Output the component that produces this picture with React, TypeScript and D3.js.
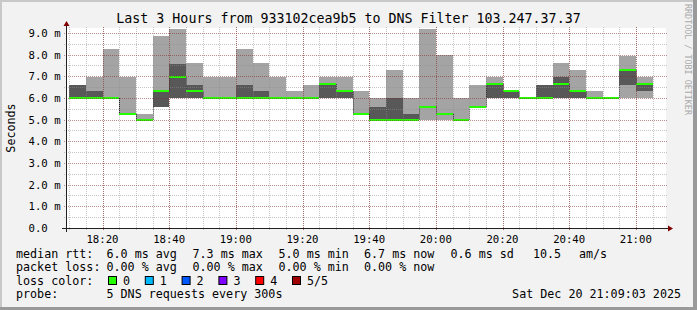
import React from "react";
import * as d3 from "d3";

// ---------- data ----------
const binStarts = [
  "18:10", "18:15", "18:20", "18:25", "18:30", "18:35", "18:40", "18:45", "18:50", "18:55",
  "19:00", "19:05", "19:10", "19:15", "19:20", "19:25", "19:30", "19:35", "19:40", "19:45",
  "19:50", "19:55", "20:00", "20:05", "20:10", "20:15", "20:20", "20:25", "20:30", "20:35",
  "20:40", "20:45", "20:50", "20:55", "21:00",
];
// five sorted pings per 5-minute step (ms)
const ping1 = [6.0, 6.0, 6.0, 5.27, 5.0, 5.6, 6.0, 6.0, 6.0, 6.0, 6.0, 6.0, 6.0, 6.0, 6.0, 6.0, 6.0, 5.27, 5.0, 5.0, 5.0, 5.0, 5.0, 5.0, 5.6, 6.0, 6.0, 6.0, 6.0, 6.0, 6.0, 6.0, 6.0, 6.0, 6.0];
const ping2 = [6.0, 6.0, 6.0, 5.27, 5.0, 5.6, 6.0, 6.0, 6.0, 6.0, 6.0, 6.0, 6.0, 6.0, 6.0, 6.0, 6.0, 5.27, 5.0, 5.0, 5.0, 5.6, 5.27, 5.0, 5.6, 6.0, 6.0, 6.0, 6.0, 6.0, 6.0, 6.0, 6.0, 6.6, 6.3];
const median = [6.0, 6.0, 6.0, 5.27, 5.0, 6.3, 6.95, 6.3, 6.0, 6.0, 6.0, 6.0, 6.0, 6.0, 6.0, 6.63, 6.3, 5.27, 5.0, 5.0, 5.0, 5.6, 5.27, 5.0, 5.6, 6.63, 6.3, 6.0, 6.0, 6.63, 6.3, 6.0, 6.0, 7.27, 6.63];
const ping4 = [6.6, 6.3, 6.0, 5.27, 5.0, 6.3, 7.58, 6.6, 6.0, 6.0, 6.6, 6.3, 6.0, 6.0, 6.0, 6.63, 6.3, 5.27, 5.6, 6.0, 5.27, 5.6, 5.27, 5.0, 5.6, 6.63, 6.3, 6.0, 6.6, 6.95, 6.3, 6.0, 6.0, 7.27, 6.63];
const ping5 = [6.6, 6.95, 8.27, 6.98, 5.27, 8.87, 9.2, 7.63, 6.95, 6.95, 8.27, 7.63, 6.95, 6.3, 6.6, 6.95, 6.95, 6.3, 6.0, 7.27, 6.0, 9.2, 8.0, 6.0, 6.6, 6.95, 6.3, 6.0, 6.6, 7.6, 7.27, 6.3, 6.0, 7.92, 6.98];

const yTickValues = [0, 1, 2, 3, 4, 5, 6, 7, 8, 9];
const xTickLabels = ["18:20", "18:40", "19:00", "19:20", "19:40", "20:00", "20:20", "20:40", "21:00"];
const lossLabels = ["0", "1", "2", "3", "4", "5/5"];
const lossColors = ["#26ff00", "#00b8ff", "#0059ff", "#7e00ff", "#ff0000", "#a10000"];

const titleText = "Last 3 Hours from 933102cea9b5 to DNS Filter 103.247.37.37";
const legendRtt = ["median rtt:", "6.0 ms avg", "7.3 ms max", "5.0 ms min", "6.7 ms now", "0.6 ms sd", "10.5", "am/s"];
const legendLoss = ["packet loss:", "0.00 % avg", "0.00 % max", "0.00 % min", "0.00 % now"];
const probeText = ["probe:", "5 DNS requests every 300s"];
const dateText = "Sat Dec 20 21:09:03 2025";

// ---------- layout ----------
const W = 697;
const H = 310;
const X0 = 66;
const X1 = 666;
const YB = 228;
const YT = 28;
const FONT = "'DejaVu Sans Mono', monospace";

const parse = d3.timeParse("%Y-%m-%d %H:%M:%S");
const tStart = parse("2025-12-20 18:09:03")!;
const tEnd = parse("2025-12-20 21:09:03")!;
const x = d3.scaleTime().domain([tStart, tEnd]).range([X0, X1]);
const y = d3.scaleLinear().domain([0, 9.23]).range([YB, YT]);

const starts = binStarts.map((s) => parse(`2025-12-20 ${s}:00`)!);
const ends = starts.map((d) => d3.timeMinute.offset(d, 5));

const px = (v: number) => Math.round(v) + 0.5;

export default function App() {
  const minorY = y.ticks(20).filter((v) => Math.abs(v - Math.round(v)) > 1e-6);
  const majorY = yTickValues;
  const minorX = x.ticks(d3.timeMinute.every(5)!);
  const majorX = x.ticks(d3.timeMinute.every(20)!);
  const fmt = d3.timeFormat("%H:%M");
  const swidth = 9.23 / 200; // one pixel in value units

  const xcol = (d: Date) => Math.round(x(d));

  return (
    <svg
      width={W}
      height={H}
      style={{ position: "absolute", left: 0, top: 0 }}
      fontFamily={FONT}
    >
      {/* background + 3D frame */}
      <rect x={0} y={0} width={W} height={H} fill="#f2f2f2" />
      <rect x={0} y={0} width={W} height={2} fill="#c8c8c8" />
      <rect x={0} y={0} width={2} height={H} fill="#c8c8c8" />
      <rect x={W - 4} y={0} width={4} height={H} fill="#9a9a9a" />
      <rect x={0} y={H - 3} width={W} height={3} fill="#9a9a9a" />

      {/* canvas */}
      <rect x={X0} y={YT} width={X1 - X0} height={YB - YT} fill="#ffffff" />

      {/* smoke */}
      <g shapeRendering="crispEdges">
        {starts.map((s, i) => {
          const xa = xcol(s);
          const xb = xcol(ends[i]);
          return (
            <g key={"s" + i}>
              <rect
                x={xa}
                width={xb - xa}
                y={Math.round(y(ping5[i]))}
                height={Math.max(0, Math.round(y(ping1[i])) - Math.round(y(ping5[i])))}
                fill="#a4a4a4"
              />
              <rect
                x={xa}
                width={xb - xa}
                y={Math.round(y(ping4[i]))}
                height={Math.max(0, Math.round(y(ping2[i])) - Math.round(y(ping4[i])))}
                fill="#585858"
              />
            </g>
          );
        })}
      </g>

      {/* median transitions */}
      <g>
        {starts.slice(1).map((s, k) => {
          const i = k + 1;
          if (Math.abs(median[i] - median[i - 1]) < 1e-6) return null;
          const xv = xcol(s) + 0.5;
          return (
            <line
              key={"t" + i}
              x1={xv}
              x2={xv}
              y1={y(median[i - 1])}
              y2={y(median[i])}
              stroke="#202020"
              strokeWidth={1}
              strokeDasharray="1,1"
            />
          );
        })}
      </g>

      {/* median band (loss 0) */}
      <g shapeRendering="crispEdges">
        {starts.map((s, i) => {
          const xa = xcol(s);
          const xb = xcol(ends[i]);
          const top = Math.round(y(median[i] + swidth));
          const bot = Math.round(y(median[i] - swidth));
          return (
            <rect key={"m" + i} x={xa} width={xb - xa} y={top} height={bot - top} fill={lossColors[0]} />
          );
        })}
      </g>

      {/* grid */}
      <g strokeWidth={1} shapeRendering="crispEdges">
        {minorY.map((v) => (
          <line key={"hy" + v} x1={X0 - 2} x2={X1 + 2} y1={px(y(v))} y2={px(y(v))} stroke="rgba(140,140,140,0.5)" strokeDasharray="1,1" />
        ))}
        {minorX.map((d) => (
          <line key={"vx" + +d} x1={px(x(d))} x2={px(x(d))} y1={YB + 2} y2={YT - 2} stroke="rgba(140,140,140,0.5)" strokeDasharray="1,1" />
        ))}
        {majorY.filter((v) => v > 0).map((v) => (
          <line key={"Hy" + v} x1={X0 - 2} x2={X1 + 2} y1={px(y(v))} y2={px(y(v))} stroke="rgba(130,30,30,0.5)" strokeDasharray="1,1" />
        ))}
        {majorX.map((d) => (
          <line key={"Vx" + +d} x1={px(x(d))} x2={px(x(d))} y1={YB + 2} y2={YT - 2} stroke="rgba(130,30,30,0.5)" strokeDasharray="1,1" />
        ))}
      </g>

      {/* axes */}
      <g shapeRendering="crispEdges">
        <line x1={X0 - 4} x2={X1 + 4} y1={YB + 0.5} y2={YB + 0.5} stroke="#202020" />
        <line x1={X0 + 0.5} x2={X0 + 0.5} y1={YB + 4} y2={YT - 4} stroke="#202020" />
      </g>
      <path d={`M${X1 + 2},${YB - 2.5}L${X1 + 2},${YB + 3.5}L${X1 + 7},${YB + 0.5}Z`} fill="#800000" />
      <path d={`M${X0 - 2.5},${YT - 2}L${X0 + 3.5},${YT - 2}L${X0 + 0.5},${YT - 7}Z`} fill="#800000" />

      {/* y labels */}
      <g fontSize={10.67} fill="#000">
        {yTickValues.map((v) => (
          <text key={"yl" + v} x={28.5} y={y(v) + 4} style={{ whiteSpace: "pre" }}>
            {v === 0 ? "0.0" : `${v.toFixed(1)} m`}
          </text>
        ))}
      </g>

      {/* x labels */}
      <g fontSize={10.67} fill="#000" textAnchor="middle">
        {majorX.map((d, i) => (
          <text key={"xl" + i} x={x(d)} y={242.5}>
            {xTickLabels.includes(fmt(d)) ? fmt(d) : fmt(d)}
          </text>
        ))}
      </g>

      {/* title */}
      <text x={348.5} y={23} fontSize={13.3} textAnchor="middle" fill="#000">
        {titleText}
      </text>

      {/* y axis title */}
      <text transform={`translate(14.5,128) rotate(-90)`} fontSize={11.7} textAnchor="middle" fill="#000">
        Seconds
      </text>

      {/* watermark */}
      <text transform={`translate(685,4) rotate(90)`} fontSize={8.4} fill="#aaaaaa">
        RRDTOOL / TOBI OETIKER
      </text>

      {/* legend */}
      <g fontSize={11.7} fill="#000">
        {legendRtt.map((t, i) => (
          <text key={"lr" + i} x={[16, 106.5, 192.5, 278.5, 364, 450.5, 533, 579][i]} y={257.5}>
            {t}
          </text>
        ))}
        {legendLoss.map((t, i) => (
          <text key={"ll" + i} x={[16, 106.5, 192.5, 278.5, 364][i]} y={271}>
            {t}
          </text>
        ))}
        <text x={16} y={284.5}>loss color:</text>
        {lossLabels.map((l, i) => (
          <g key={"lc" + i}>
            <rect x={108.5 + i * 36.8} y={276.5} width={8} height={8} fill={lossColors[i]} stroke="#000" strokeWidth={1} />
            <text x={123 + i * 36.8} y={284.5}>
              {l}
            </text>
          </g>
        ))}
        <text x={16} y={298}>{probeText[0]}</text>
        <text x={106.5} y={298}>{probeText[1]}</text>
        <text x={681} y={298} textAnchor="end">
          {dateText}
        </text>
      </g>
    </svg>
  );
}
